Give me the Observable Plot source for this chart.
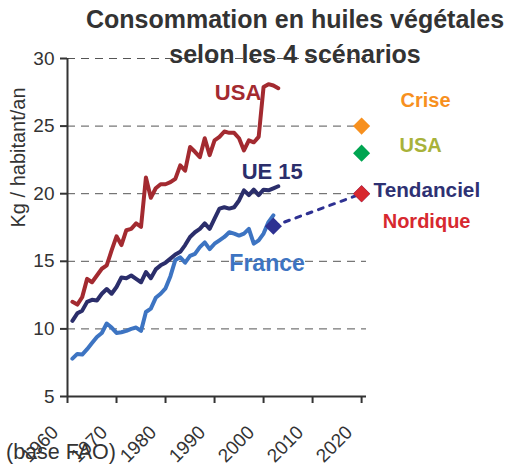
<!DOCTYPE html>
<html><head><meta charset="utf-8">
<script src="https://cdn.jsdelivr.net/npm/d3@7"></script>
<script src="https://cdn.jsdelivr.net/npm/@observablehq/plot@0.6"></script>
<style>
body{margin:0;background:#fff;}
#wrap{position:relative;width:515px;height:466px;font-family:"Liberation Sans",Arial,sans-serif;}
#title{position:absolute;left:60px;width:470px;top:2px;text-align:center;font-weight:bold;font-size:25px;line-height:35px;color:#333;}
#caption{position:absolute;left:6px;top:440px;font-size:21.5px;line-height:24px;color:#333;}
</style></head><body>
<div id="wrap"></div>
<script>
const firstYear = 1961;
const usaValues = [12.0, 11.8, 12.35, 13.7, 13.45, 13.95, 14.45, 14.7, 15.8, 16.85,
  16.2, 17.3, 17.4, 17.8, 17.55, 21.2, 19.7, 20.4, 20.7, 20.7,
  20.85, 21.1, 22.1, 21.7, 23.45, 23.1, 22.7, 24.1, 22.85, 23.95,
  24.2, 24.6, 24.5, 24.5, 24.1, 23.2, 23.95, 23.8, 24.2, 27.9,
  28.1, 28.0, 27.8];
const ue15Values = [10.6, 11.15, 11.35, 12.0, 12.15, 12.1, 12.6, 12.95, 12.6, 13.1,
  13.8, 13.75, 13.95, 13.7, 13.45, 14.2, 13.75, 14.4, 14.7, 14.9,
  15.2, 15.5, 15.7, 16.2, 16.8, 17.15, 17.4, 17.8, 17.4, 18.15,
  18.9, 19.0, 18.9, 19.0, 19.5, 20.25, 19.9, 20.3, 19.9, 20.3,
  20.25, 20.4, 20.55];
const franceValues = [7.8, 8.15, 8.1, 8.5, 8.95, 9.4, 9.7, 10.4, 10.1, 9.7,
  9.75, 9.85, 10.0, 10.1, 9.85, 11.25, 11.5, 12.3, 12.6, 13.0,
  13.9, 15.1, 15.3, 14.9, 15.4, 15.55, 16.05, 16.4, 15.9, 16.3,
  16.55, 16.8, 17.15, 17.05, 16.9, 17.05, 17.4, 16.3, 16.55, 17.05,
  17.9, 18.4];
const seriesNames = ["USA", "UE 15", "France"];
const seriesColors = ["#a32a30", "#2b2e6b", "#3d74c2"];
const scenarioNames = ["Crise", "USA", "Tendanciel", "Nordique"];
const scenarioValues = [25, 23, 20, 20];
const scenarioYear = 2020;
const scenarioDotColors = ["#f7901e", "#00a551", "#2e3192", "#d7282f"];
const scenarioLabelColors = ["#f7901e", "#a8b23a", "#2e3173", "#d7282f"];
const projYears = [2002, 2020];
const projValues = [17.6, 20];
const xTicks = [1960, 1970, 1980, 1990, 2000, 2010, 2020];
const yTicks = [5, 10, 15, 20, 25, 30];
const gridValues = [10, 15, 20, 25, 30];
const titleLines = ["Consommation en huiles végétales", "selon les 4 scénarios"];
const yLabel = "Kg / habitant/an";
const captionText = "(base FAO)";

const toRows = (vals, name) => vals.map((v, i) => ({year: firstYear + i, value: v, series: name}));
const usaRows = toRows(usaValues, seriesNames[0]);
const ueRows = toRows(ue15Values, seriesNames[1]);
const frRows = toRows(franceValues, seriesNames[2]);
const scenarios = scenarioNames.map((n, i) => ({name: n, year: scenarioYear, value: scenarioValues[i], dot: scenarioDotColors[i], label: scenarioLabelColors[i]}));
const proj = projYears.map((y, i) => ({year: y, value: projValues[i]}));

const bold = {fontWeight: "bold"};
const scenLabel = (name, opts) => Plot.text(scenarios.filter(d => d.name === name), {
  x: "year", y: "value", text: "name", fill: scenarios.find(d => d.name === name).label,
  fontSize: 20, fontWeight: "bold", ...opts});

const chart = Plot.plot({
  width: 515, height: 466,
  marginLeft: 67, marginRight: 149, marginTop: 58, marginBottom: 70,
  x: {domain: [1960, 2021]},
  y: {domain: [5, 30]},
  style: {fontFamily: "'Liberation Sans', Arial, sans-serif", color: "#333", background: "transparent"},
  marks: [
    Plot.ruleY(gridValues, {stroke: "#555", strokeWidth: 1, strokeDasharray: "8,6"}),
    Plot.axisY({ticks: yTicks, tickSize: 7, tickPadding: 6, fontSize: 19, label: null, strokeWidth: 2}),
    Plot.axisX({ticks: xTicks, tickSize: 7, label: null, strokeWidth: 2, tickFormat: () => ""}),
    Plot.text(xTicks, {x: d => d, frameAnchor: "bottom", text: d => String(d), rotate: -45,
      textAnchor: "end", lineAnchor: "bottom", dx: -8, dy: 37, fontSize: 19, fill: "#333"}),
    Plot.ruleY([5], {stroke: "#333", strokeWidth: 2}),
    Plot.ruleX([1960], {stroke: "#333", strokeWidth: 2}),
    Plot.line(usaRows, {x: "year", y: "value", stroke: seriesColors[0], strokeWidth: 4}),
    Plot.line(ueRows, {x: "year", y: "value", stroke: seriesColors[1], strokeWidth: 4}),
    Plot.line(frRows, {x: "year", y: "value", stroke: seriesColors[2], strokeWidth: 4}),
    Plot.line(proj, {x: "year", y: "value", stroke: "#2e3192", strokeWidth: 3, strokeDasharray: "5,7"}),
    Plot.dot([proj[0]], {x: "year", y: "value", fill: "#2e3192", symbol: "diamond2", r: 7.7}),
    Plot.dot(scenarios, {x: "year", y: "value", fill: d => d.dot, symbol: "diamond2", r: 7.7}),
    Plot.text(usaRows, Plot.selectLast({x: "year", y: "value", text: d => d.series, fill: seriesColors[0], fontSize: 22, ...bold, textAnchor: "end", dx: -17, dy: 5})),
    Plot.text(ueRows, Plot.selectLast({x: "year", y: "value", text: d => d.series, fill: seriesColors[1], fontSize: 22, ...bold, dx: -6, dy: -14})),
    Plot.text(frRows, Plot.selectLast({x: "year", y: "value", text: d => d.series, fill: seriesColors[2], fontSize: 23, ...bold, textAnchor: "start", dx: -44, dy: 48})),
    scenLabel("Crise", {dx: 64, dy: -26}),
    scenLabel("USA", {dx: 59, dy: -8}),
    scenLabel("Tendanciel", {dx: 12, dy: -3, textAnchor: "start", fontSize: 20.7}),
    scenLabel("Nordique", {dx: 65, dy: 28}),
    Plot.text([yLabel], {frameAnchor: "left", rotate: -90, dx: -49, fontSize: 20, fill: "#333"})
  ]
});

const wrap = document.getElementById("wrap");
wrap.appendChild(chart);
chart.style.position = "absolute"; chart.style.left = "0"; chart.style.top = "0";
const title = document.createElement("div");
title.id = "title";
title.innerHTML = titleLines.join("<br>");
wrap.appendChild(title);
const cap = document.createElement("div");
cap.id = "caption";
cap.textContent = captionText;
wrap.appendChild(cap);
</script>
</body></html>
